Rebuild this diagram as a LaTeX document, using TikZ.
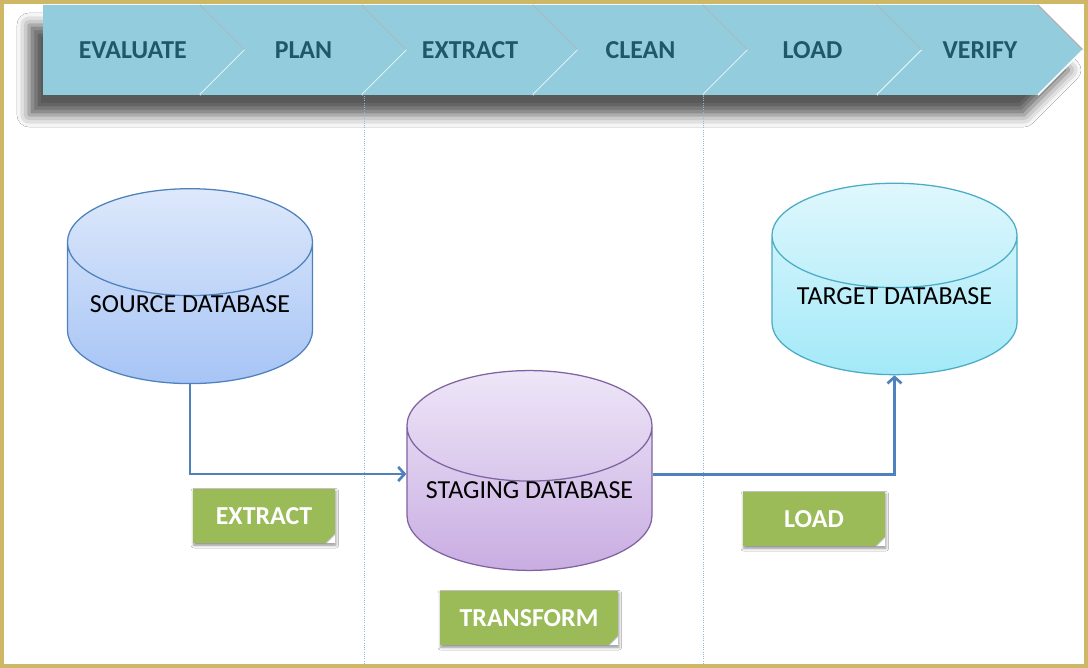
\documentclass[tikz,border=0pt]{standalone}
\usepackage{fontspec}
\setmainfont{Carlito}
\usepackage{tikz}
\usetikzlibrary{shapes.geometric, arrows.meta, shadows.blur}

\definecolor{frame}{HTML}{CFB865}
\definecolor{chevron}{HTML}{93CDDD}
\definecolor{chevtext}{HTML}{215868}
\definecolor{flowblue}{HTML}{4F81BD}
\definecolor{tagfill}{HTML}{9BBB59}
\definecolor{divline}{HTML}{95B3D7}
\definecolor{srctop}{HTML}{DDE8FB}
\definecolor{srcbot}{HTML}{A6C4F5}
\definecolor{stgtop}{HTML}{EEE6F8}
\definecolor{stgbot}{HTML}{C9ADE2}
\definecolor{stgline}{HTML}{8064A2}
\definecolor{tgttop}{HTML}{DFF7FD}
\definecolor{tgtbot}{HTML}{A3E9F8}
\definecolor{tgtline}{HTML}{4BACC6}

\tikzset{db/.style={cylinder, shape border rotate=90, aspect=0.51, draw, line width=0.9pt,
    minimum width=6.125cm, minimum height=4.72cm, text height=0.3cm, text depth=0.68cm,
    font=\fontsize{18.5}{22}\selectfont}}
\tikzset{tag/.style={fill=tagfill, text=white, font=\bfseries\fontsize{18.4}{22}\selectfont,
    minimum height=1.35cm, inner sep=0pt,
    blur shadow={shadow xshift=0.6pt, shadow yshift=-1.6pt, shadow blur radius=2pt, shadow opacity=45},
    path picture={\fill[white] ([xshift=-0.22cm]path picture bounding box.south east) -- (path picture bounding box.south east) -- ([yshift=0.22cm]path picture bounding box.south east) -- cycle;
      \draw[black!25, line width=0.6pt] ([xshift=-0.22cm]path picture bounding box.south east) -- ([yshift=0.22cm]path picture bounding box.south east);}}}
\tikzset{flow/.style={draw=flowblue, line width=1.9pt, -{Straight Barb[length=4.5pt, width=10pt, line width=1.9pt]}}}
\tikzset{divider/.style={draw=divline, densely dotted, line width=0.6pt}}

\begin{document}
\begin{tikzpicture}[x=0.025cm, y=-0.025cm]
    \useasboundingbox (0,0) rectangle (1088,668);
    \fill[white] (0,0) rectangle (1088,668);
    % phase banner
    \path[blur shadow={shadow xshift=-0.35cm, shadow yshift=-0.5cm, shadow blur radius=0.3cm, shadow opacity=65}]
        (43,5) -- (1038,5) -- (1083,50) -- (1038,95) -- (43,95) -- cycle;
    \foreach \l/\r/\t [count=\i] in {43/200/EVALUATE, 200/362/PLAN, 362/533/EXTRACT, 533/703/CLEAN, 703/877/LOAD, 877/1038/VERIFY} {
        \pgfmathsetmacro{\d}{ifthenelse(\i==1,0,45)}
        \fill[chevron] (\l,5) -- (\r,5) -- (\r+45,50) -- (\r,95) -- (\l,95) -- (\l+\d,50) -- cycle;
        \draw[black!30, line width=0.8pt] (\r,5) -- (\r+45,50);
        \draw[white, line width=1.2pt] (\r+45,50) -- (\r,95);
        \node[text=chevtext, font=\bfseries\fontsize{18.4}{22}\selectfont] (phase\i) at ({(\l+\d/2+\r+22.5)/2},50) {\t};
    }
    % stage dividers
    \draw[divider] (364,96) -- (364,666);
    \draw[divider] (703,96) -- (703,666);
    % databases
    \node[db, draw=flowblue, top color=srctop, bottom color=srcbot] (src) at (190,320.5) {SOURCE DATABASE};
    \node[db, draw=stgline, top color=stgtop, bottom color=stgbot] (stage) at (529.5,506) {STAGING DATABASE};
    \node[db, draw=tgtline, top color=tgttop, bottom color=tgtbot] (tgt) at (894.5,312.5) {TARGET DATABASE};
    % flows
    \draw[flow] (src.south) |- ([yshift=0.8cm]stage.west);
    \draw[flow] ([yshift=0.78cm]stage.east) -| (tgt.south);
    % tags
    \node[tag, minimum width=3.55cm] (tagext) at (264,516) {EXTRACT};
    \node[tag, minimum width=4.45cm] (tagtrans) at (529,618) {TRANSFORM};
    \node[tag, minimum width=3.55cm] (tagload) at (814,519) {LOAD};
    % frame
    \draw[frame, line width=2.2pt] (2,2) rectangle (1086,666);
\end{tikzpicture}
\end{document}
